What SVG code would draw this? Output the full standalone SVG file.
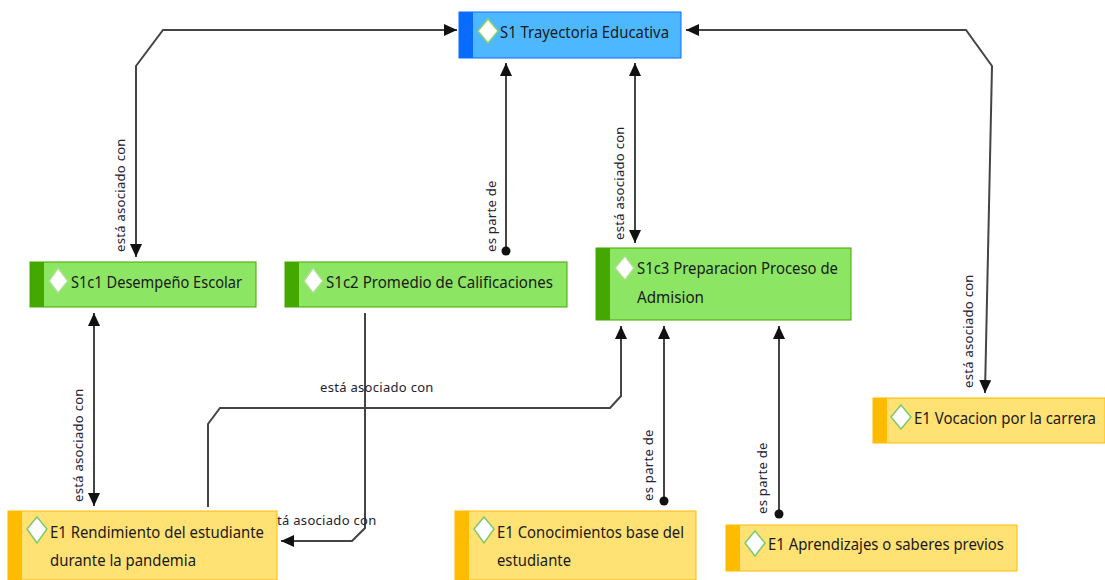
<svg xmlns="http://www.w3.org/2000/svg" width="1105" height="580" viewBox="0 0 1105 580">
<defs>
<marker id="ah" markerUnits="userSpaceOnUse" markerWidth="14" markerHeight="12" refX="13" refY="6" orient="auto-start-reverse"><path d="M0 0L13 6L0 12Z" fill="#111"/></marker>
<marker id="dot" markerUnits="userSpaceOnUse" markerWidth="10" markerHeight="10" refX="5" refY="5"><circle cx="5" cy="5" r="4.5" fill="#111"/></marker>
</defs>
<style>
.c{fill:none;stroke:#444;stroke-width:2;marker-end:url(#ah)}
.cb{marker-start:url(#ah)}
.cd{marker-start:url(#dot)}
.l{font-family:"Noto Sans","Open Sans",sans-serif;font-size:13px;fill:#223;letter-spacing:.3px}
.t{font-family:"Noto Sans","Open Sans",sans-serif;font-size:17px;fill:#1a1a1a;textLength:auto}
.d{fill:#fff;stroke-width:1.5}
.g .b{fill:#8ce563;stroke:#44a800}.g .s{fill:#44a800}.g .d{stroke:#a9e08c}
.y .b{fill:#ffe174;stroke:#ffbb00}.y .s{fill:#ffbb00}.y .d{stroke:#7fc96a}
.u .b{fill:#4db8ff;stroke:#0a6cff}.u .s{fill:#0a6cff}.u .d{stroke:#8fd06f}
</style>
<g id="connectors">
<path class="c cb" d="M136 257V66L163 30H457"/>
<path class="c cd" d="M506 251V63"/>
<path class="c cb" d="M635 243V63"/>
<path class="c cb" d="M985 393L992 66L966 30H686"/>
<path class="c cb" d="M94 506V313"/>
<path class="c" d="M208 507V424L220 408H610L621 396V326"/>
<path class="c" d="M365 313V528L352 541H281"/>
<path class="c cd" d="M664 501V326"/>
<path class="c cd" d="M779 514V326"/>
<text class="l" transform="translate(125 252) rotate(-90)">está asociado con</text>
<text class="l" transform="translate(496 252) rotate(-90)">es parte de</text>
<text class="l" transform="translate(624 240) rotate(-90)">está asociado con</text>
<text class="l" transform="translate(973 388) rotate(-90)">está asociado con</text>
<text class="l" transform="translate(83 502) rotate(-90)">está asociado con</text>
<text class="l" x="320" y="392">está asociado con</text>
<text class="l" x="277" y="525">tá asociado con</text>
<text class="l" transform="translate(653 501) rotate(-90)">es parte de</text>
<text class="l" transform="translate(767 514) rotate(-90)">es parte de</text>
</g>
<g id="n-s1" class="u"><rect class="b" x="459" y="12" width="222" height="46"/><rect class="s" x="459" y="12" width="14" height="46"/><path class="d" d="M488 19L498 31L488 43L478 31Z"/><text class="t" x="500" y="38" textLength="169" lengthAdjust="spacingAndGlyphs">S1 Trayectoria Educativa</text></g>
<g id="n-s1c1" class="g"><rect class="b" x="30" y="262" width="226" height="45"/><rect class="s" x="30" y="262" width="14" height="45"/><path class="d" d="M58 268L68 281L58 293L49 281Z"/><text class="t" x="71" y="288" textLength="171" lengthAdjust="spacingAndGlyphs">S1c1 Desempeño Escolar</text></g>
<g id="n-s1c2" class="g"><rect class="b" x="285" y="262" width="282" height="45"/><rect class="s" x="285" y="262" width="14" height="45"/><path class="d" d="M313 268L323 281L313 293L304 281Z"/><text class="t" x="326" y="288" textLength="227" lengthAdjust="spacingAndGlyphs">S1c2 Promedio de Calificaciones</text></g>
<g id="n-s1c3" class="g"><rect class="b" x="596" y="248" width="255" height="72"/><rect class="s" x="596" y="248" width="14" height="72"/><path class="d" d="M625 256L634 268L625 280L615 268Z"/><text class="t" x="637" y="274" textLength="201" lengthAdjust="spacingAndGlyphs">S1c3 Preparacion Proceso de</text><text class="t" x="637" y="303" textLength="67" lengthAdjust="spacingAndGlyphs">Admision</text></g>
<g id="n-e1r" class="y"><rect class="b" x="8" y="511" width="269" height="69"/><rect class="s" x="8" y="511" width="14" height="69"/><path class="d" d="M37 517L47 529L37 543L27 529Z"/><text class="t" x="50" y="538" textLength="214" lengthAdjust="spacingAndGlyphs">E1 Rendimiento del estudiante</text><text class="t" x="50" y="566" textLength="146" lengthAdjust="spacingAndGlyphs">durante la pandemia</text></g>
<g id="n-e1c" class="y"><rect class="b" x="455" y="511" width="241" height="69"/><rect class="s" x="455" y="511" width="14" height="69"/><path class="d" d="M484 517L494 529L484 543L474 529Z"/><text class="t" x="497" y="538" textLength="187" lengthAdjust="spacingAndGlyphs">E1 Conocimientos base del</text><text class="t" x="497" y="566" textLength="74" lengthAdjust="spacingAndGlyphs">estudiante</text></g>
<g id="n-e1a" class="y"><rect class="b" x="726" y="525" width="291" height="46"/><rect class="s" x="726" y="525" width="14" height="46"/><path class="d" d="M755 531L765 543L755 556L745 543Z"/><text class="t" x="768" y="550" textLength="236" lengthAdjust="spacingAndGlyphs">E1 Aprendizajes o saberes previos</text></g>
<g id="n-e1v" class="y"><rect class="b" x="873" y="398" width="232" height="45"/><rect class="s" x="873" y="398" width="14" height="45"/><path class="d" d="M901 405L911 417L901 429L891 417Z"/><text class="t" x="914" y="424" textLength="182" lengthAdjust="spacingAndGlyphs">E1 Vocacion por la carrera</text></g>
</svg>
